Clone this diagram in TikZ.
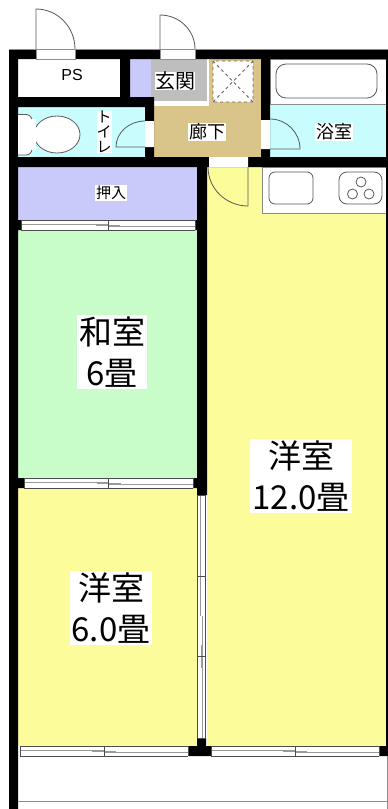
\documentclass[tikz,border=0pt]{standalone}
\usepackage{fontspec}
\setmainfont{Noto Sans CJK JP}
\newfontfamily\latinfont{Liberation Sans}
\definecolor{oshiirecol}{HTML}{C9C9FA}
\definecolor{watercol}{HTML}{C9FCFC}
\definecolor{roukacol}{HTML}{D9C58A}
\definecolor{genkancol}{HTML}{BEBEBE}
\definecolor{washitsucol}{HTML}{C8FCC8}
\definecolor{yoshitsucol}{HTML}{FDFC9A}
\tikzset{
  label/.style={fill=white, inner sep=1pt, align=center, text=black},
  biglabel/.style={label, inner sep=2pt, font=\fontsize{33}{41}\selectfont},
  fixture/.style={draw=black!65, line width=.8pt, fill=white, rounded corners=6pt},
  leaf/.style={draw=black!65, line width=.8pt},
  rail/.style={draw=black!40, line width=1pt}
}
\begin{document}
\begin{tikzpicture}[x=1pt, y=-1pt]
  \useasboundingbox (0, 0) rectangle (388, 809);
  \fill [white] (0, 0) rectangle (388, 809);
  % rooms
  \fill [oshiirecol] (130, 59) rectangle (152, 97)
                     (18, 167) rectangle (197, 220);
  \fill [watercol] (18, 107) rectangle (145, 157)
                   (270, 104) rectangle (386, 157);
  \fill [roukacol] (154, 59) rectangle (261, 157);
  \fill [white] (151, 59) rectangle (209, 106);
  \fill [genkancol] (151, 59) rectangle (207, 101);
  \fill [washitsucol] (18, 230) rectangle (197, 478);
  \fill [yoshitsucol] (18, 488) rectangle (197, 746)
                      (207, 167) rectangle (386, 746);
  \filldraw [fill=white, draw=black!45] (262, 167) rectangle (386, 213);
  \filldraw [fill=white, draw=black!45] (270, 59) rectangle (386, 104);
  % walls
  \fill [black] (9, 49) rectangle (388, 59)
                (9, 49) rectangle (18, 809)
                (120, 49) rectangle (130, 97)
                (18, 97) rectangle (154, 107)
                (145, 97) rectangle (154, 157)
                (261, 59) rectangle (270, 157)
                (18, 157) rectangle (388, 167)
                (386, 49) rectangle (388, 167)
                (197, 157) rectangle (207, 495)
                (18, 220) rectangle (21, 230)
                (195, 220) rectangle (197, 230)
                (18, 478) rectangle (24, 488)
                (193, 478) rectangle (197, 488)
                (197, 738) rectangle (206, 746)
                (189, 746) rectangle (211, 756)
                (379, 746) rectangle (388, 756)
                (386, 167) rectangle (388, 746);
  \draw [black!45] (9, 49) -- (388, 49)
                   (18, 801) -- (388, 801)
                   (387.5, 756) -- (387.5, 809);
  % door openings
  \filldraw [fill=white, draw=black!45] (36, 49) rectangle (75, 59)
                                        (160, 49) rectangle (195, 59);
  \fill [white] (145, 121) rectangle (154, 147)
                (261, 120) rectangle (270, 149)
                (209, 157) rectangle (248, 167);
  % doors
  \draw [leaf] (36, 49) -- (36, 9) arc [start angle=90, end angle=0, x radius=39, y radius=-40];
  \draw [leaf] (160, 49) -- (160, 15) arc [start angle=90, end angle=0, x radius=35, y radius=-34];
  \draw [leaf] (145, 147) -- (116, 147) arc [start angle=180, end angle=90, x radius=29, y radius=-26];
  \draw [leaf] (270, 149) -- (300, 149) arc [start angle=0, end angle=90, x radius=30, y radius=-30];
  \draw [leaf] (248, 167) -- (248, 206) arc [start angle=90, end angle=180, x radius=40, y radius=39];
  % sliding doors
  \foreach \xa/\xb/\ya in {21/195/220, 24/193/478, 20/188/746, 211/379/746} {
    \pgfmathsetmacro{\xm}{(\xa+\xb)/2}
    \fill [white] (\xa, \ya+1) rectangle (\xb, \ya+10);
    \draw [rail] (\xa, \ya+4) -- (\xm, \ya+4)
                 (\xm-12, \ya+5) -- (\xm+12, \ya+5)
                 (\xm, \ya+6) -- (\xb, \ya+6);
    \draw [black!70, line width=.7pt] (\xa, \ya+.5) -- (\xb, \ya+.5)
          (\xa, \ya+10) -- (\xb, \ya+10)
          (\xa, \ya) -- (\xa, \ya+10) (\xb, \ya) -- (\xb, \ya+10)
          (\xm, \ya+1) -- (\xm, \ya+10);
  }
  \fill [white] (197, 495) rectangle (206, 738);
  \draw [rail] (200.5, 495) -- (200.5, 616) (202.5, 616) -- (202.5, 738)
               (200.5, 565) -- (200.5, 586) (201, 645) -- (201, 668);
  \draw [black!70, line width=.7pt] (197.5, 495) -- (197.5, 738) (205.5, 495) -- (205.5, 738)
        (197, 495) -- (206, 495) (197, 738) -- (206, 738)
        (197, 576) -- (206, 576) (197, 656) -- (206, 656);
  % fittings
  \draw [fixture] (18, 114.5) -- (32, 114.5) -- (32, 155) -- (18, 155);
  \draw [fixture, rounded corners=0pt] (57, 134.5) ellipse [x radius=23, y radius=18.5];
  \fill [white] (28, 119) rectangle (36, 150);
  \draw [fixture, rounded corners=10pt] (276, 64) rectangle (377, 98);
  \draw [fixture] (269, 172) rectangle (313, 204);
  \draw [fixture, rounded corners=8pt] (339, 172) rectangle (382, 204);
  \foreach \cx/\cy in {361/182, 352.5/194, 369/194}
    \draw [black!65, line width=.8pt] (\cx, \cy) circle [radius=5];
  \fill [white] (213, 61) rectangle (253, 102);
  \draw [black!60, dashed, line width=.9pt] (213, 61) rectangle (253, 102)
        (213, 61) -- (253, 102) (253, 61) -- (213, 102);
  % labels
  \node [label, font=\latinfont\fontsize{16}{16}\selectfont] (ps) at (72, 75) {PS};
  \node [label, font=\fontsize{20}{20}\selectfont, inner sep=0pt] (genkan) at (175, 81) {玄関};
  \node [label, font=\fontsize{15}{15}\selectfont, inner sep=0pt] (toilet) at (104, 132) {ト\\イ\\レ};
  \node [label, font=\fontsize{18}{18}\selectfont] (rouka) at (207, 132) {廊下};
  \node [label, font=\fontsize{18}{18}\selectfont] (yokushitsu) at (334, 132) {浴室};
  \node [label, font=\fontsize{15}{15}\selectfont] (oshiire) at (111, 193) {押入};
  \node [biglabel] (washitsu) at (112, 352) {和室\\6畳};
  \node [biglabel] (yoshitsua) at (301, 476) {洋室\\12.0畳};
  \node [biglabel] (yoshitsub) at (111, 608) {洋室\\6.0畳};
\end{tikzpicture}
\end{document}
